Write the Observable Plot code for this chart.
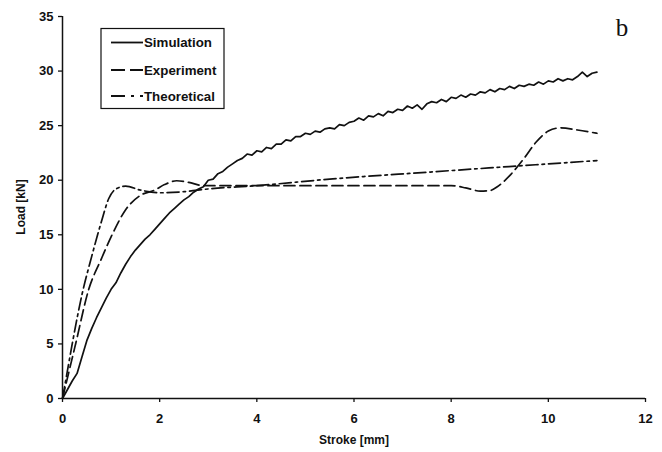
<!DOCTYPE html>
<html>
<head>
<meta charset="utf-8">
<script src="https://cdn.jsdelivr.net/npm/d3@7"></script>
<script src="https://cdn.jsdelivr.net/npm/@observablehq/plot@0.6"></script>
<style>
  html, body { margin: 0; padding: 0; background: #fff; }
  #chart { position: relative; width: 662px; height: 452px; }
</style>
</head>
<body>
<div id="chart"></div>
<script>
// ---- data ----
const seriesNames = ["Simulation", "Experiment", "Theoretical"];

const simStroke = [0,0.1,0.2,0.3,0.4,0.5,0.6,0.7,0.8,0.9,1.0,1.1,1.2,1.3,1.4,1.5,1.6,1.7,1.8,1.9,
  2.0,2.1,2.2,2.3,2.4,2.5,2.6,2.7,2.8,2.9,3.0,3.1,3.2,3.3,3.4,3.5,3.6,3.7,3.8,3.9,
  4.0,4.1,4.2,4.3,4.4,4.5,4.6,4.7,4.8,4.9,5.0,5.1,5.2,5.3,5.4,5.5,5.6,5.7,5.8,5.9,
  6.0,6.1,6.2,6.3,6.4,6.5,6.6,6.7,6.8,6.9,7.0,7.1,7.2,7.3,7.4,7.5,7.6,7.7,7.8,7.9,
  8.0,8.1,8.2,8.3,8.4,8.5,8.6,8.7,8.8,8.9,9.0,9.1,9.2,9.3,9.4,9.5,9.6,9.7,9.8,9.9,
  10.0,10.1,10.2,10.3,10.4,10.5,10.6,10.7,10.8,10.9,11.0];
const simLoad = [0,0.8,1.6,2.3,3.8,5.3,6.4,7.4,8.3,9.2,10.0,10.6,11.5,12.3,13.0,13.6,14.1,14.6,15.0,15.5,
  16.0,16.5,17.0,17.4,17.8,18.2,18.5,18.9,19.2,19.4,20.0,20.1,20.6,20.8,21.2,21.5,21.8,22.0,22.4,22.3,
  22.7,22.6,23.0,22.9,23.3,23.3,23.7,23.6,24.0,24.0,24.3,24.2,24.5,24.4,24.7,24.8,24.7,25.1,25.0,25.3,
  25.4,25.7,25.5,25.9,25.8,26.1,25.9,26.3,26.2,26.5,26.4,26.8,26.6,26.9,26.5,27.0,27.2,27.1,27.4,27.2,
  27.6,27.5,27.8,27.6,27.9,27.8,28.1,28.0,28.3,28.1,28.4,28.3,28.6,28.4,28.7,28.6,28.8,28.7,29.0,28.8,
  29.1,29.0,29.3,29.1,29.3,29.2,29.5,29.9,29.5,29.8,29.9];

const expStroke = [0,0.27,0.54,0.8,1.02,1.3,1.6,1.9,2.1,2.35,2.6,2.9,3.5,4,5,6,7,8,8.3,8.6,8.8,8.95,9.2,9.5,9.75,10.0,10.25,10.6,11.0];
const expLoad   = [0,5,10,12.8,15,17.3,18.6,19.1,19.6,19.95,19.8,19.5,19.5,19.5,19.5,19.5,19.5,19.5,19.3,19.0,19.05,19.4,20.4,22.0,23.5,24.5,24.8,24.6,24.3];

const theoStroke = [0,0.1,0.2,0.4,0.6,0.8,0.95,1.1,1.3,1.6,2.0,2.5,3.0,4.0,5.5,7.57,11.0];
const theoLoad   = [0,2.5,5,9.5,13,16.2,18.3,19.2,19.45,19.1,18.85,18.95,19.2,19.5,20.1,20.75,21.8];

const xTicks = [0,2,4,6,8,10,12];
const yTicks = [0,5,10,15,20,25,30,35];

// ---- build table ----
const rows = [];
simStroke.forEach((s,i) => rows.push({series: seriesNames[0], stroke: s, load: simLoad[i]}));
expStroke.forEach((s,i) => rows.push({series: seriesNames[1], stroke: s, load: expLoad[i]}));
theoStroke.forEach((s,i) => rows.push({series: seriesNames[2], stroke: s, load: theoLoad[i]}));

const dashes = {Simulation: null, Experiment: "11,5", Theoretical: "12,4,2.5,4"};
const FONT = "'Liberation Sans', Arial, sans-serif";

const marks = [
  Plot.ruleX([0], {stroke: "#111", strokeWidth: 1.5}),
  Plot.ruleY([0], {stroke: "#111", strokeWidth: 1.5}),
  Plot.axisY({ticks: yTicks, tickSize: 4, tickPadding: 5, label: null,
    fontSize: 13, fontWeight: "bold", fill: "#111", stroke: "#111", strokeWidth: 1.3}),
  Plot.axisX({ticks: xTicks, tickSize: 4, tickPadding: 11, label: null,
    fontSize: 13, fontWeight: "bold", fill: "#111", stroke: "#111", strokeWidth: 1.3})
];
for (const name of seriesNames) {
  marks.push(Plot.line(rows.filter(d => d.series === name), {
    x: "stroke", y: "load", curve: name === "Simulation" ? "linear" : "monotone-x",
    stroke: "#111", strokeWidth: 1.7, strokeDasharray: dashes[name]
  }));
}

const plot = Plot.plot({
  width: 662, height: 452,
  marginLeft: 62, marginRight: 17, marginTop: 16, marginBottom: 54,
  style: {fontFamily: FONT, background: "#fff", color: "#111"},
  x: {domain: [0, 12]},
  y: {domain: [0, 35]},
  marks
});
document.getElementById("chart").appendChild(plot);

// ---- axis titles, panel letter, legend ----
const svg = d3.select(plot);
svg.append("text").attr("x", 354).attr("y", 444).attr("text-anchor", "middle")
  .attr("font-family", FONT).attr("font-size", 12).attr("font-weight", "bold").attr("fill", "#111")
  .text("Stroke [mm]");
svg.append("text").attr("transform", "translate(25,207) rotate(-90)").attr("text-anchor", "middle")
  .attr("font-family", FONT).attr("font-size", 12).attr("font-weight", "bold").attr("fill", "#111")
  .text("Load [kN]");
svg.append("text").attr("x", 622).attr("y", 36).attr("text-anchor", "middle")
  .attr("font-family", "'Liberation Serif', 'DejaVu Serif', serif").attr("font-size", 25).attr("fill", "#111")
  .text("b");

const lg = svg.append("g");
lg.append("rect").attr("x", 101).attr("y", 28.5).attr("width", 123).attr("height", 80)
  .attr("fill", "#fff").attr("stroke", "#111").attr("stroke-width", 1.2);
seriesNames.forEach((name, i) => {
  const cy = [42.5, 70, 96][i];
  lg.append("line").attr("x1", 111).attr("x2", 143).attr("y1", cy).attr("y2", cy)
    .attr("stroke", "#111").attr("stroke-width", 1.8)
    .attr("stroke-dasharray", name === "Experiment" ? "14,5" : name === "Theoretical" ? "14,6,3,6" : null);
  lg.append("text").attr("x", 144).attr("y", cy).attr("dy", "0.36em").attr("text-anchor", "start")
    .attr("font-family", FONT).attr("font-size", 13.3).attr("font-weight", "bold").attr("fill", "#111")
    .text(name);
});
</script>
</body>
</html>
